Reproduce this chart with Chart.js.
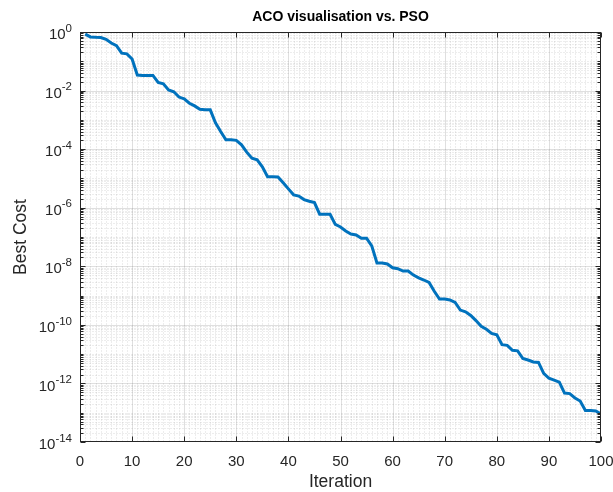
<!DOCTYPE html>
<html>
<head>
<meta charset="utf-8">
<script src="https://cdn.jsdelivr.net/npm/chart.js@4/dist/chart.umd.min.js"></script>
<style>
  html, body { margin: 0; padding: 0; background: #ffffff; }
  #wrap { width: 613px; height: 492px; position: relative; }
</style>
</head>
<body>
<div id="wrap"><canvas id="c" width="613" height="492"></canvas></div>
<script>
// ---- data ----
const iterations = [
  1, 2, 3, 4, 5, 6, 7, 8, 9, 10,
  11, 12, 13, 14, 15, 16, 17, 18, 19, 20,
  21, 22, 23, 24, 25, 26, 27, 28, 29, 30,
  31, 32, 33, 34, 35, 36, 37, 38, 39, 40,
  41, 42, 43, 44, 45, 46, 47, 48, 49, 50,
  51, 52, 53, 54, 55, 56, 57, 58, 59, 60,
  61, 62, 63, 64, 65, 66, 67, 68, 69, 70,
  71, 72, 73, 74, 75, 76, 77, 78, 79, 80,
  81, 82, 83, 84, 85, 86, 87, 88, 89, 90,
  91, 92, 93, 94, 95, 96, 97, 98, 99, 100
];
const bestCost = [
  8.5e-1, 6.8e-1, 6.6e-1, 6.5e-1, 5.6e-1, 4.2e-1, 3.4e-1, 1.9e-1, 1.8e-1, 1.2e-1,
  3.4e-2, 3.3e-2, 3.3e-2, 3.3e-2, 1.9e-2, 1.7e-2, 1.05e-2, 9.1e-3, 6.0e-3, 5.2e-3,
  3.7e-3, 3.0e-3, 2.3e-3, 2.2e-3, 2.2e-3, 7.9e-4, 4.0e-4, 2.1e-4, 2.1e-4, 2.0e-4,
  1.4e-4, 7.9e-5, 4.9e-5, 4.3e-5, 2.5e-5, 1.15e-5, 1.15e-5, 1.12e-5, 7.1e-6, 4.4e-6,
  2.75e-6, 2.5e-6, 1.9e-6, 1.66e-6, 1.5e-6, 6.0e-7, 6.0e-7, 6.0e-7, 2.7e-7, 2.2e-7,
  1.6e-7, 1.26e-7, 1.17e-7, 9.1e-8, 9.1e-8, 5.0e-8, 1.3e-8, 1.29e-8, 1.2e-8, 8.9e-9,
  8.3e-9, 6.9e-9, 6.9e-9, 5.0e-9, 4.0e-9, 3.4e-9, 2.8e-9, 1.4e-9, 7.6e-10, 7.6e-10,
  7.1e-10, 5.8e-10, 3.2e-10, 2.8e-10, 2.1e-10, 1.4e-10, 8.9e-11, 7.1e-11, 5.1e-11, 4.6e-11,
  2.1e-11, 2.0e-11, 1.35e-11, 1.3e-11, 7.1e-12, 6.3e-12, 5.4e-12, 5.2e-12, 2.2e-12, 1.5e-12,
  1.3e-12, 1.1e-12, 4.7e-13, 4.5e-13, 3.2e-13, 2.5e-13, 1.2e-13, 1.2e-13, 1.15e-13, 9.1e-14
];
const xTickValues = [0, 10, 20, 30, 40, 50, 60, 70, 80, 90, 100];
const yTickExponents = [0, -2, -4, -6, -8, -10, -12, -14];
const titleText = 'ACO visualisation vs. PSO';
const xLabelText = 'Iteration';
const yLabelText = 'Best Cost';

// ---- styling ----
const FONT = '"Liberation Sans", Arial, Helvetica, sans-serif';
const AXIS_COLOR = '#262626';
const LINE_COLOR = '#0072BD';
const MAJOR_GRID = 'rgba(38,38,38,0.15)';
const MINOR_GRID = 'rgba(38,38,38,0.17)';

const matlabAxes = {
  id: 'matlabAxes',
  beforeDatasetsDraw(chart) {
    const {ctx, chartArea: a, scales: {x, y}} = chart;
    const L = Math.round(a.left) + 0.5, R = Math.round(a.right) - 0.5;
    const T = Math.round(a.top) + 0.5, B = Math.round(a.bottom) - 0.5;
    ctx.save();
    ctx.lineWidth = 1;
    // minor grid (dotted)
    ctx.strokeStyle = MINOR_GRID;
    ctx.setLineDash([1, 2]);
    ctx.beginPath();
    for (let v = x.min + 1; v < x.max; v++) {
      if (v % 10 === 0) continue;
      const px = Math.round(x.getPixelForValue(v)) + 0.5;
      ctx.moveTo(px, T); ctx.lineTo(px, B);
    }
    for (let e = -14; e < 0; e++) {
      for (let m = 1; m <= 9; m++) {
        if (m === 1 && e % 2 === 0) continue;
        const py = Math.round(y.getPixelForValue(m * Math.pow(10, e))) + 0.5;
        ctx.moveTo(L, py); ctx.lineTo(R, py);
      }
    }
    ctx.stroke();
    // major grid (solid)
    ctx.setLineDash([]);
    ctx.strokeStyle = MAJOR_GRID;
    ctx.beginPath();
    xTickValues.forEach(v => {
      if (v === x.min || v === x.max) return;
      const px = Math.round(x.getPixelForValue(v)) + 0.5;
      ctx.moveTo(px, T); ctx.lineTo(px, B);
    });
    yTickExponents.forEach(e => {
      const v = Math.pow(10, e);
      if (v >= y.max || v <= y.min) return;
      const py = Math.round(y.getPixelForValue(v)) + 0.5;
      ctx.moveTo(L, py); ctx.lineTo(R, py);
    });
    ctx.stroke();
    ctx.restore();
  },
  afterDatasetsDraw(chart) {
    const {ctx, chartArea: a, scales: {x, y}} = chart;
    const L = Math.round(a.left) + 0.5, R = Math.round(a.right) - 0.5;
    const T = Math.round(a.top) + 0.5, B = Math.round(a.bottom) - 0.5;
    ctx.save();
    ctx.strokeStyle = AXIS_COLOR;
    ctx.lineWidth = 1;
    ctx.setLineDash([]);
    ctx.beginPath();
    xTickValues.forEach(v => {
      const px = Math.round(x.getPixelForValue(v)) + 0.5;
      ctx.moveTo(px, B); ctx.lineTo(px, B - 5);
      ctx.moveTo(px, T); ctx.lineTo(px, T + 5);
    });
    for (let e = -14; e <= 0; e++) {
      for (let m = 1; m <= 9; m++) {
        if (e === 0 && m > 1) continue;
        const py = Math.round(y.getPixelForValue(m * Math.pow(10, e))) + 0.5;
        const len = (m === 1 && e % 2 === 0) ? 5 : 3;
        ctx.moveTo(L, py); ctx.lineTo(L + len, py);
        ctx.moveTo(R, py); ctx.lineTo(R - len, py);
      }
    }
    ctx.stroke();
    ctx.strokeRect(L, T, R - L, B - T);
    // y tick labels 10^e
    ctx.fillStyle = AXIS_COLOR;
    ctx.textBaseline = 'middle';
    yTickExponents.forEach(e => {
      const py = y.getPixelForValue(Math.pow(10, e));
      const rightX = a.left - 8;
      ctx.font = '11.5px ' + FONT;
      ctx.textAlign = 'right';
      const expStr = String(e);
      ctx.fillText(expStr, rightX, py - 3.5);
      const w = ctx.measureText(expStr).width;
      ctx.font = '15px ' + FONT;
      ctx.fillText('10', rightX - w, py + 3);
    });
    ctx.restore();
  }
};

new Chart(document.getElementById('c'), {
  type: 'line',
  data: {
    datasets: [{
      data: iterations.map((it, i) => ({x: it, y: bestCost[i]})),
      borderColor: LINE_COLOR,
      backgroundColor: LINE_COLOR,
      borderWidth: 3,
      pointRadius: 0,
      tension: 0,
      fill: false
    }]
  },
  options: {
    responsive: false,
    animation: false,
    devicePixelRatio: 1,
    layout: { padding: { left: 0, right: 12, top: 0, bottom: 0 } },
    plugins: {
      legend: { display: false },
      tooltip: { enabled: false },
      title: {
        display: true,
        text: titleText,
        fullSize: false,
        color: '#000000',
        font: { family: FONT, size: 14, weight: 'bold' },
        padding: { top: 8.8, bottom: 6.4 }
      }
    },
    scales: {
      x: {
        type: 'linear',
        min: 0, max: 100,
        grid: { display: false, drawTicks: false },
        border: { display: false },
        afterBuildTicks: s => { s.ticks = xTickValues.map(v => ({value: v})); },
        afterFit: s => { s.height = 50; s.paddingLeft = 0; s.paddingRight = 0; },
        ticks: {
          color: AXIS_COLOR,
          padding: 11,
          maxRotation: 0,
          autoSkip: false,
          font: { family: FONT, size: 15 }
        },
        title: {
          display: true,
          text: xLabelText,
          color: AXIS_COLOR,
          font: { family: FONT, size: 17.5 },
          padding: { top: 0, bottom: -1 }
        }
      },
      y: {
        type: 'logarithmic',
        min: 1e-14, max: 1,
        grid: { display: false, drawTicks: false },
        border: { display: false },
        ticks: { display: false },
        afterFit: s => { s.width = 80; s.paddingTop = 0; s.paddingBottom = 0; },
        title: {
          display: true,
          text: yLabelText,
          color: AXIS_COLOR,
          font: { family: FONT, size: 17.5 },
          padding: { top: 11, bottom: 0 }
        }
      }
    }
  },
  plugins: [matlabAxes]
});
</script>
</body>
</html>
